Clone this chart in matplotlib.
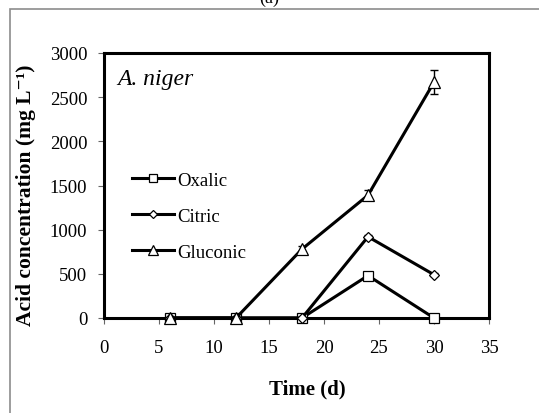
import matplotlib.pyplot as plt
from matplotlib.patches import Rectangle
from matplotlib.lines import Line2D

days = [6, 12, 18, 24, 30]
oxalic = [0, 0, 0, 480, 0]
citric = [0, 0, 0, 920, 490]
gluconic = [0, 0, 780, 1390, 2670]
oxalic_err = [0, 0, 0, 20, 0]
citric_err = [0, 0, 0, 25, 20]
gluconic_err = [0, 0, 40, 55, 135]

plt.rcParams['font.family'] = ['Liberation Serif', 'DejaVu Serif']

fig = plt.figure(figsize=(5.39, 4.14), dpi=100)
fig.patches.append(Rectangle((10 / 539, -0.1), 1.2, 1 - 10 / 414 + 0.1,
                             transform=fig.transFigure, fill=False,
                             edgecolor='#8c8c8c', linewidth=1.2))
fig.text(0.5, 1.005, '(a)', ha='center', va='center', fontsize=13)

ax = fig.add_axes([104 / 539, 1 - 319 / 414, 385 / 539, 265 / 414])

line_kw = dict(color='black', linewidth=2.2, markerfacecolor='white',
               markeredgecolor='black', markeredgewidth=0.9)
err_kw = dict(fmt='none', capsize=3, ecolor='black', elinewidth=1.0,
              capthick=1.0)
series = [(oxalic, oxalic_err, 's', 7, 'Oxalic'),
          (citric, citric_err, 'D', 5, 'Citric'),
          (gluconic, gluconic_err, '^', 8, 'Gluconic')]
handles = []
for vals, err, mk, ms, name in series:
    ax.errorbar(days, vals, yerr=err, zorder=3, **err_kw)
    ax.plot(days, vals, marker=mk, markersize=ms, clip_on=False, zorder=4,
            **line_kw)
    handles.append(Line2D([], [], marker=mk, markersize=ms * 0.85,
                          label=name, **line_kw))

ax.set_xlim(0, 35)
ax.set_ylim(0, 3000)
ax.set_xticks(range(0, 36, 5))
ax.set_yticks(range(0, 3001, 500))
ax.tick_params(direction='out', length=4, width=0.8, color='#666666',
               labelsize=13.5)
ax.tick_params(axis='x', pad=11)
ax.tick_params(axis='y', pad=8)
for s in ax.spines.values():
    s.set_linewidth(2.2)

ax.set_xlabel('Time (d)', fontsize=15, fontweight='bold')
ax.xaxis.set_label_coords(0.527, -0.23)
ax.set_ylabel('Acid concentration (mg L\u207b\u00b9)', fontsize=15.5,
              fontweight='bold')
ax.yaxis.set_label_coords(-0.177, 0.468)
ax.text(0.035, 0.905, 'A. niger', transform=ax.transAxes, fontsize=17,
        style='italic', va='center')

ax.legend(handles=handles, loc='upper left', bbox_to_anchor=(0.03, 0.615),
          frameon=False, fontsize=13.5, handlelength=2.2, handletextpad=0.2,
          labelspacing=1.0)

fig.savefig('out.png', dpi=100)
